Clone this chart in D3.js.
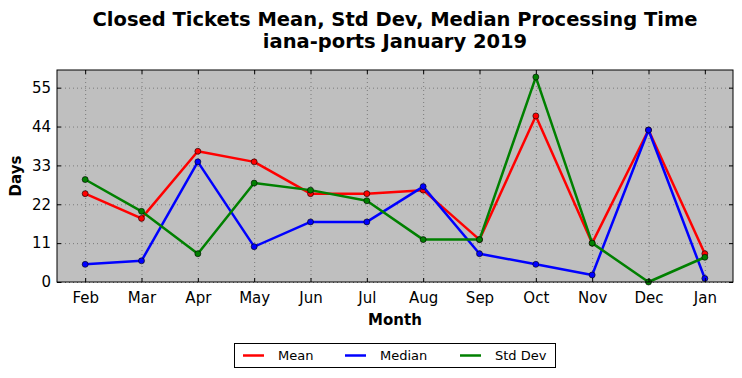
<!DOCTYPE html>
<html>
<head>
<meta charset="utf-8">
<script src="https://cdn.jsdelivr.net/npm/d3@7"></script>
<style>
  body { margin: 0; background: white; }
  text { font-family: "DejaVu Sans", sans-serif; }
</style>
</head>
<body>
<svg id="chart" width="742" height="378"></svg>
<script>
var months = ["Feb", "Mar", "Apr", "May", "Jun", "Jul", "Aug", "Sep", "Oct", "Nov", "Dec", "Jan"];
var meanDays = [25, 18, 37, 34, 25, 25, 26, 12, 47, 11, 43, 8];
var medianDays = [5, 6, 34, 10, 17, 17, 27, 8, 5, 2, 43, 1];
var stdDays = [29, 20, 8, 28, 26, 23, 12, 12, 58, 11, 0, 7];
var yTicks = [0, 11, 22, 33, 44, 55];

var series = [
    {name: "Mean", color: "#ff0000", values: meanDays},
    {name: "Median", color: "#0000ff", values: medianDays},
    {name: "Std Dev", color: "#008000", values: stdDays}
];

var svg = d3.select("#chart");
var plotLeft = 57, plotRight = 733, plotTop = 70, plotBottom = 282;

var x = d3.scaleLinear().domain([-0.5, months.length - 0.5]).range([plotLeft, plotRight]);
var y = d3.scaleLinear().domain([0, 60]).range([plotBottom, plotTop]);

// plot background
svg.append("rect")
    .attr("x", plotLeft).attr("y", plotTop)
    .attr("width", plotRight - plotLeft).attr("height", plotBottom - plotTop)
    .attr("fill", "#bfbfbf");

// grid
var grid = svg.append("g");
grid.selectAll(".gx").data(months).enter().append("line")
    .attr("x1", (d, i) => x(i) + 0.5).attr("x2", (d, i) => x(i) + 0.5)
    .attr("y1", plotTop).attr("y2", plotBottom)
    .attr("stroke", "#7a7a7a").attr("stroke-width", 1).attr("stroke-dasharray", "1,3");
grid.selectAll(".gy").data(yTicks).enter().append("line")
    .attr("x1", plotLeft).attr("x2", plotRight)
    .attr("y1", d => y(d) + 0.5).attr("y2", d => y(d) + 0.5)
    .attr("stroke", "#7a7a7a").attr("stroke-width", 1).attr("stroke-dasharray", "1,3");

// lines + markers
var line = d3.line().x((d, i) => x(i)).y(d => y(d));
series.forEach(function(s) {
    svg.append("path")
        .attr("d", line(s.values))
        .attr("fill", "none")
        .attr("stroke", s.color)
        .attr("stroke-width", 2.5)
        .attr("stroke-linejoin", "round");
    svg.append("g").selectAll("circle").data(s.values).enter().append("circle")
        .attr("cx", (d, i) => x(i)).attr("cy", d => y(d))
        .attr("r", 3)
        .attr("fill", s.color)
        .attr("stroke", "#000").attr("stroke-width", 0.6);
});

// axes (classic style: ticks inside on all sides)
var xAxis = d3.axisBottom(x).tickValues(d3.range(months.length))
    .tickFormat(i => months[i]).tickSizeInner(-4).tickSizeOuter(0).tickPadding(10);
var yAxis = d3.axisLeft(y).tickValues(yTicks).tickSizeInner(-4).tickSizeOuter(0).tickPadding(6);
var gx = svg.append("g").attr("transform", `translate(0,${plotBottom})`).call(xAxis);
var gy = svg.append("g").attr("transform", `translate(${plotLeft},0)`).call(yAxis);
var gxTop = svg.append("g").attr("transform", `translate(0,${plotTop})`)
    .call(d3.axisTop(x).tickValues(d3.range(months.length)).tickSizeInner(-4).tickSizeOuter(0).tickFormat(""));
var gyRight = svg.append("g").attr("transform", `translate(${plotRight},0)`)
    .call(d3.axisRight(y).tickValues(yTicks).tickSizeInner(-4).tickSizeOuter(0).tickFormat(""));
[gx, gy, gxTop, gyRight].forEach(function(g) {
    g.select(".domain").remove();
    g.selectAll(".tick line").attr("stroke", "#000");
    g.selectAll(".tick text").attr("font-size", 15).attr("fill", "#000")
        .attr("font-family", "DejaVu Sans, sans-serif");
});

// frame
svg.append("rect")
    .attr("x", plotLeft).attr("y", plotTop)
    .attr("width", plotRight - plotLeft).attr("height", plotBottom - plotTop)
    .attr("fill", "none").attr("stroke", "#000").attr("stroke-width", 1);

// title
var cx = (plotLeft + plotRight) / 2;
svg.append("text").attr("x", cx).attr("y", 26).attr("text-anchor", "middle")
    .attr("font-size", 19.5).attr("font-weight", "bold").text("Closed Tickets Mean, Std Dev, Median Processing Time");
svg.append("text").attr("x", cx).attr("y", 48).attr("text-anchor", "middle")
    .attr("font-size", 19.5).attr("font-weight", "bold").text("iana-ports January 2019");

// axis labels
svg.append("text").attr("x", cx).attr("y", 325).attr("text-anchor", "middle")
    .attr("font-size", 15).attr("font-weight", "bold").text("Month");
svg.append("text").attr("transform", `translate(21,${(plotTop + plotBottom) / 2}) rotate(-90)`)
    .attr("text-anchor", "middle").attr("font-size", 15).attr("font-weight", "bold").text("Days");

// legend
var lg = svg.append("g");
lg.append("rect").attr("x", 234.5).attr("y", 343.5).attr("width", 321).attr("height", 24)
    .attr("fill", "white").attr("stroke", "#000").attr("stroke-width", 1);
var legendX = [243, 345, 460];
series.forEach(function(s, i) {
    lg.append("line").attr("x1", legendX[i]).attr("x2", legendX[i] + 21)
        .attr("y1", 355.5).attr("y2", 355.5)
        .attr("stroke", s.color).attr("stroke-width", 2.5);
    lg.append("text").attr("x", legendX[i] + 35).attr("y", 360)
        .attr("font-size", 13).text(s.name);
});
</script>
</body>
</html>
